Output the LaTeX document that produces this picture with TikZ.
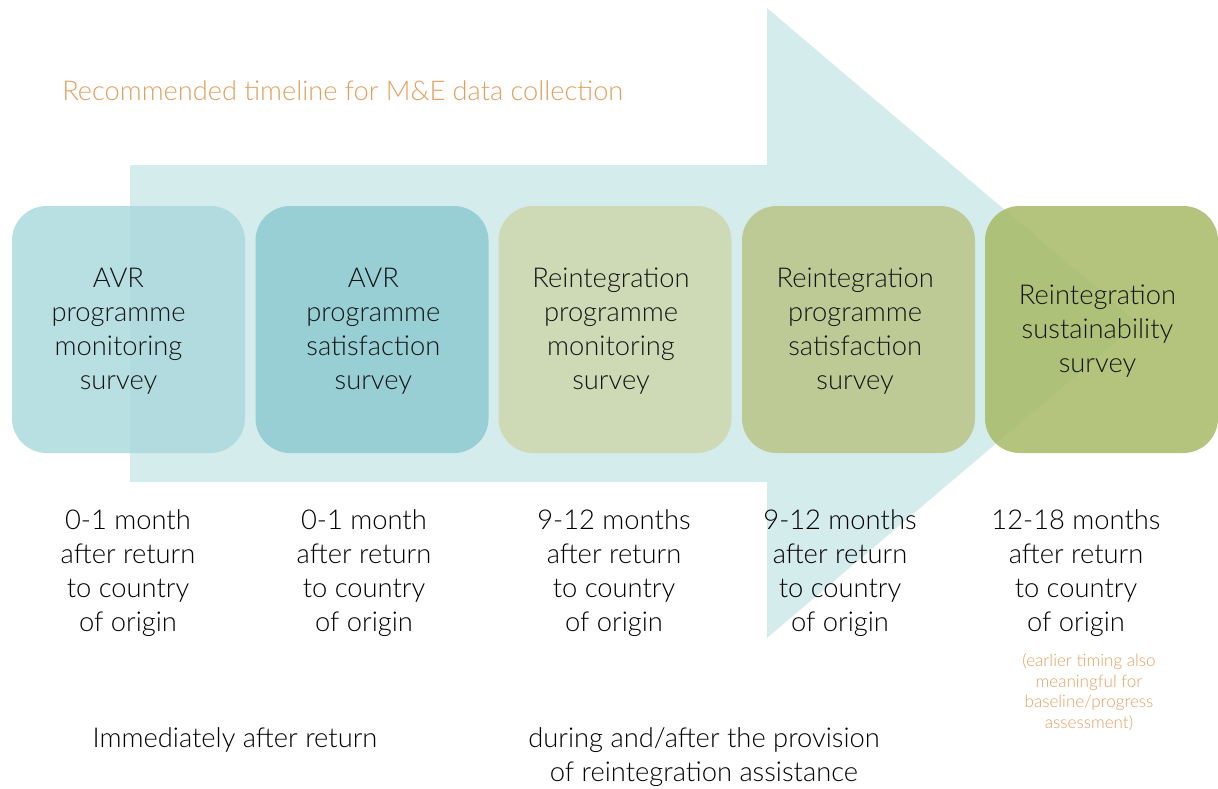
\documentclass[tikz,border=0pt]{standalone}
\usepackage{fontspec}
\setmainfont{Lato}[UprightFont=* Light, BoldFont=* Regular]
\definecolor{arrowc}{RGB}{213,236,237}
\definecolor{cA}{RGB}{171,217,221}
\definecolor{cB}{RGB}{141,202,208}
\definecolor{cC}{RGB}{205,215,172}
\definecolor{cD}{RGB}{186,197,135}
\definecolor{cE}{RGB}{167,186,101}
\definecolor{orangec}{RGB}{224,160,95}
\definecolor{textc}{RGB}{20,20,20}
\tikzset{
  box/.style={rounded corners=26pt, minimum width=174.75pt, minimum height=185.25pt, opacity=0.85, inner sep=0pt},
  boxtext/.style={align=center, text=textc, font=\fontsize{20.5pt}{25.5pt}\selectfont, inner sep=0pt},
  timetext/.style={align=center, text=black, font=\fontsize{20.5pt}{25.5pt}\selectfont, inner sep=0pt},
  notetext/.style={align=center, text=orangec, font=\fontsize{12.8pt}{15.5pt}\selectfont, inner sep=0pt},
  titletext/.style={anchor=base west, text=orangec, font=\fontsize{20.4pt}{24pt}\selectfont, inner sep=0pt},
}
\begin{document}
\begin{tikzpicture}[x=0.75pt,y=-0.75pt]
\useasboundingbox (0,0) rectangle (1218,789);
% big arrow
\fill[arrowc] (130,165) -- (767,165) -- (767,8) -- (1138,323) -- (767,638) -- (767,482) -- (130,482) -- cycle;
% title
\node[titletext] (title) at (62,100) {Recommended timeline for M\&E data collection};
% boxes
\node[box, fill=cA] (b1) at (128.5,329.5) {};
\node[box, fill=cB] (b2) at (372,329.5) {};
\node[box, fill=cC] (b3) at (615,329.5) {};
\node[box, fill=cD] (b4) at (858.5,329.5) {};
\node[box, fill=cE] (b5) at (1101.5,329.5) {};
\node[boxtext] (t1) at ([xshift=-7.5pt,yshift=-1.5pt]b1.center) {AVR\\programme\\monitoring\\survey};
\node[boxtext] (t2) at ([xshift=1pt,yshift=-1.5pt]b2.center) {AVR\\programme\\satisfaction\\survey};
\node[boxtext] (t3) at ([xshift=-3pt,yshift=-1.5pt]b3.center) {Reintegration\\programme\\monitoring\\survey};
\node[boxtext] (t4) at ([xshift=-2.5pt,yshift=-1.5pt]b4.center) {Reintegration\\programme\\satisfaction\\survey};
\node[boxtext] (t5) at ([xshift=-3pt,yshift=-1.5pt]b5.center) {Reintegration\\sustainability\\survey};
% time texts
\node[timetext] (m1) at (128,573) {0-1 month\\after return\\to country\\of origin};
\node[timetext] (m2) at (364,573) {0-1 month\\after return\\to country\\of origin};
\node[timetext] (m3) at (614,573) {9-12 months\\after return\\to country\\of origin};
\node[timetext] (m4) at (840,573) {9-12 months\\after return\\to country\\of origin};
\node[timetext] (m5) at (1076,573) {12-18 months\\after return\\to country\\of origin};
\node[notetext] (note) at (1089,692) {(earlier timing also\\meaningful for\\baseline/progress\\assessment)};
% phase texts
\node[timetext] (p1) at (235,740) {Immediately after return};
\node[timetext] (p2) at (704,757) {during and/after the provision\\of reintegration assistance};
\end{tikzpicture}
\end{document}
